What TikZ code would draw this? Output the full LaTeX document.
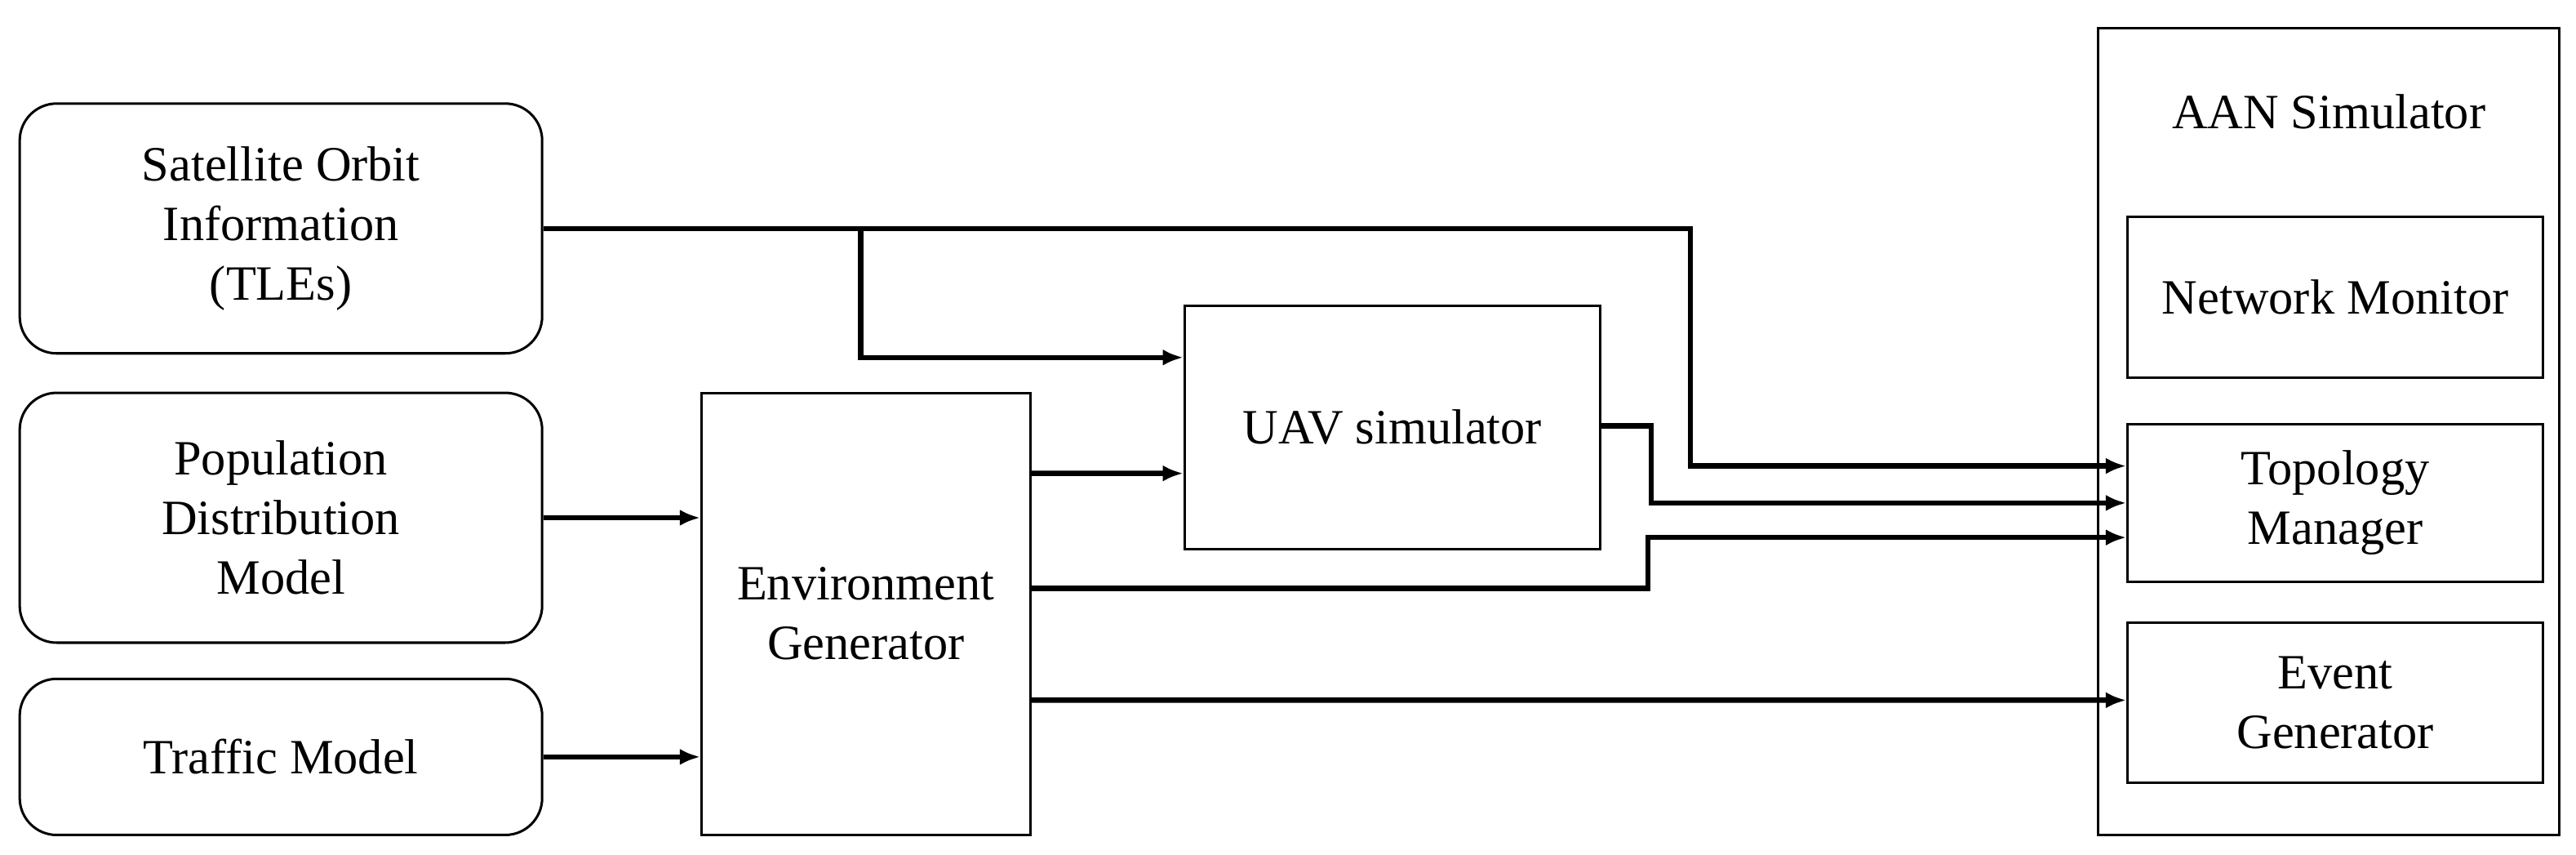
\documentclass[tikz,border=0pt]{standalone}
\usepackage{fontspec}
\setmainfont{Liberation Serif}
\usetikzlibrary{arrows.meta}

\tikzset{
	blk/.style={draw, line width=0.6pt, align=center, inner sep=0pt, font=\fontsize{12}{14.5}\selectfont},
	rblk/.style={blk, rounded corners=9pt},
	link/.style={line width=1.3pt, -{Latex[length=5pt,width=4pt]}},
}

\begin{document}
\begin{tikzpicture}[x=0.4pt,y=-0.4pt]
	\useasboundingbox (0,0) rectangle (1568,520);
	% inputs
	\node[rblk, minimum width=127.2pt, minimum height=60.8pt] (sat) at (171,139) {Satellite Orbit\\Information\\(TLEs)};
	\node[rblk, minimum width=127.2pt, minimum height=60.8pt] (pop) at (171,315) {Population\\Distribution\\Model};
	\node[rblk, minimum width=127.2pt, minimum height=38pt] (traffic) at (171,460.5) {Traffic Model};
	% generators
	\node[blk, minimum width=80pt, minimum height=107.6pt] (env) at (527,373.5) {Environment\\Generator};
	\node[blk, minimum width=101.2pt, minimum height=59.2pt] (uav) at (847.5,260) {UAV simulator};
	% simulator
	\draw[line width=0.6pt] (1277,17) rectangle (1558,508);
	\node[font=\fontsize{12}{14.5}\selectfont] (aan) at (1417.5,68) {AAN Simulator};
	\node[blk, minimum width=101.2pt, minimum height=39.2pt] (mon) at (1421.5,181) {Network Monitor};
	\node[blk, minimum width=101.2pt, minimum height=38.4pt] (topo) at (1421.5,306) {Topology\\Manager};
	\node[blk, minimum width=101.2pt, minimum height=38.8pt] (event) at (1421.5,427.5) {Event\\Generator};
	% bend points
	\coordinate (b1) at (1029,139);
	\coordinate (b2) at (524,139);
	\coordinate (b3) at (1005,259);
	\coordinate (b4) at (1003,358);
	% connectors
	\draw[link] (sat.east |- b1) -- (b1) |- ([yshift=9pt]topo.west);
	\draw[link] (b2) |- ([yshift=17pt]uav.west);
	\draw[link] (pop.east) -- (env.west |- pop.east);
	\draw[link] (traffic.east) -- (env.west |- traffic.east);
	\draw[link] (env.east |- uav.west) ++(0,28) -- ([yshift=-11.2pt]uav.west);
	\draw[link] (uav.east |- b3) -- (b3) |- (topo.west);
	\draw[link] (env.east |- b4) -- (b4) |- ([yshift=-8.4pt]topo.west);
	\draw[link] (env.east |- event.west) ++(0,-1.5) -- ([yshift=0.6pt]event.west);
\end{tikzpicture}
\end{document}
